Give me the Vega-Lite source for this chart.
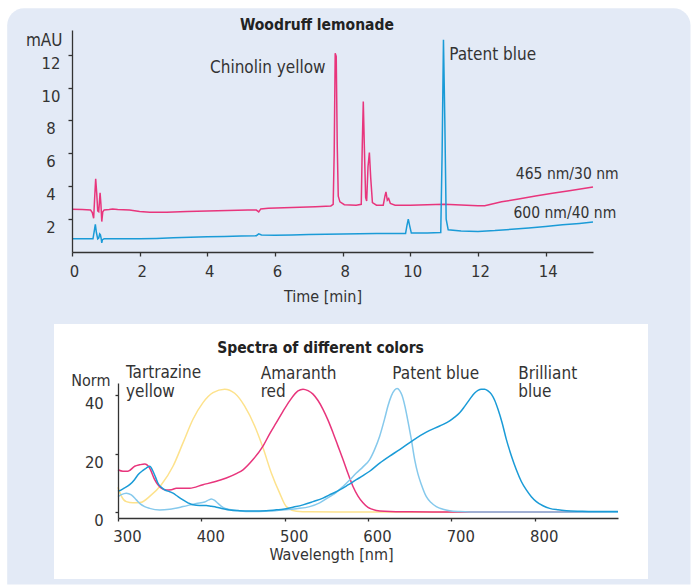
{
  "$schema": "https://vega.github.io/schema/vega-lite/v6.json",
  "background": "white",
  "padding": {"left": 7, "top": 8, "right": 0, "bottom": 0},
  "bounds": "flush",
  "spacing": 131,
  "resolve": {"scale": {"color": "independent"}},
  "config": {
    "font": "DejaVu Sans Condensed",
    "view": {"stroke": null},
    "axis": {
      "grid": false, "labelFlush": false, "labelOverlap": false, "labelBound": false,
      "domainColor": "#333333", "tickColor": "#333333", "labelColor": "#333333", "titleColor": "#333333",
      "domainWidth": 1.3, "tickWidth": 1.3, "labelFontSize": 16.5, "titleFontSize": 16, "titleFontWeight": "normal",
      "labelFont": "DejaVu Sans Condensed", "titleFont": "DejaVu Sans Condensed"
    }
  },
  "datasets": {
    "chrom": [
      {"ch":"465 nm/30 nm","t":0,"v":2.6},{"ch":"465 nm/30 nm","t":0.3,"v":2.58},{"ch":"465 nm/30 nm","t":0.55,"v":2.55},{"ch":"465 nm/30 nm","t":0.6,"v":2.4},{"ch":"465 nm/30 nm","t":0.64,"v":2.05},{"ch":"465 nm/30 nm","t":0.67,"v":3.3},{"ch":"465 nm/30 nm","t":0.7,"v":4.45},{"ch":"465 nm/30 nm","t":0.73,"v":3.6},{"ch":"465 nm/30 nm","t":0.76,"v":2.5},{"ch":"465 nm/30 nm","t":0.79,"v":2.45},{"ch":"465 nm/30 nm","t":0.83,"v":3.6},{"ch":"465 nm/30 nm","t":0.855,"v":2.9},{"ch":"465 nm/30 nm","t":0.88,"v":1.85},{"ch":"465 nm/30 nm","t":0.91,"v":2.45},{"ch":"465 nm/30 nm","t":0.95,"v":2.55},{"ch":"465 nm/30 nm","t":1.1,"v":2.58},{"ch":"465 nm/30 nm","t":1.2,"v":2.62},{"ch":"465 nm/30 nm","t":1.35,"v":2.58},{"ch":"465 nm/30 nm","t":1.7,"v":2.55},{"ch":"465 nm/30 nm","t":2.0,"v":2.47},{"ch":"465 nm/30 nm","t":2.3,"v":2.41},{"ch":"465 nm/30 nm","t":2.8,"v":2.42},{"ch":"465 nm/30 nm","t":3.4,"v":2.46},{"ch":"465 nm/30 nm","t":4.0,"v":2.5},{"ch":"465 nm/30 nm","t":4.6,"v":2.53},{"ch":"465 nm/30 nm","t":5.2,"v":2.56},{"ch":"465 nm/30 nm","t":5.45,"v":2.55},{"ch":"465 nm/30 nm","t":5.52,"v":2.44},{"ch":"465 nm/30 nm","t":5.58,"v":2.62},{"ch":"465 nm/30 nm","t":5.8,"v":2.66},{"ch":"465 nm/30 nm","t":6.5,"v":2.7},{"ch":"465 nm/30 nm","t":7.2,"v":2.75},{"ch":"465 nm/30 nm","t":7.65,"v":2.8},{"ch":"465 nm/30 nm","t":7.72,"v":2.9},{"ch":"465 nm/30 nm","t":7.75,"v":6},{"ch":"465 nm/30 nm","t":7.78,"v":12.08},{"ch":"465 nm/30 nm","t":7.81,"v":11.9},{"ch":"465 nm/30 nm","t":7.84,"v":6.5},{"ch":"465 nm/30 nm","t":7.87,"v":3.4},{"ch":"465 nm/30 nm","t":7.92,"v":3.05},{"ch":"465 nm/30 nm","t":8.05,"v":2.88},{"ch":"465 nm/30 nm","t":8.4,"v":2.85},{"ch":"465 nm/30 nm","t":8.55,"v":2.9},{"ch":"465 nm/30 nm","t":8.58,"v":6.5},{"ch":"465 nm/30 nm","t":8.61,"v":9.15},{"ch":"465 nm/30 nm","t":8.64,"v":6.5},{"ch":"465 nm/30 nm","t":8.68,"v":3.3},{"ch":"465 nm/30 nm","t":8.71,"v":3.1},{"ch":"465 nm/30 nm","t":8.75,"v":5.2},{"ch":"465 nm/30 nm","t":8.79,"v":6.05},{"ch":"465 nm/30 nm","t":8.83,"v":4.5},{"ch":"465 nm/30 nm","t":8.88,"v":3.0},{"ch":"465 nm/30 nm","t":9.0,"v":2.85},{"ch":"465 nm/30 nm","t":9.2,"v":2.85},{"ch":"465 nm/30 nm","t":9.25,"v":3.4},{"ch":"465 nm/30 nm","t":9.28,"v":3.65},{"ch":"465 nm/30 nm","t":9.32,"v":3.15},{"ch":"465 nm/30 nm","t":9.36,"v":3.25},{"ch":"465 nm/30 nm","t":9.41,"v":2.95},{"ch":"465 nm/30 nm","t":9.55,"v":2.85},{"ch":"465 nm/30 nm","t":10.0,"v":2.85},{"ch":"465 nm/30 nm","t":10.5,"v":2.88},{"ch":"465 nm/30 nm","t":11.0,"v":2.9},{"ch":"465 nm/30 nm","t":11.5,"v":2.86},{"ch":"465 nm/30 nm","t":12.0,"v":2.82},{"ch":"465 nm/30 nm","t":12.2,"v":2.82},{"ch":"465 nm/30 nm","t":12.7,"v":3.05},{"ch":"465 nm/30 nm","t":13.2,"v":3.22},{"ch":"465 nm/30 nm","t":13.7,"v":3.4},{"ch":"465 nm/30 nm","t":14.2,"v":3.57},{"ch":"465 nm/30 nm","t":14.7,"v":3.73},{"ch":"465 nm/30 nm","t":15.4,"v":3.95},
      {"ch":"600 nm/40 nm","t":0,"v":0.8},{"ch":"600 nm/40 nm","t":0.5,"v":0.8},{"ch":"600 nm/40 nm","t":0.62,"v":0.8},{"ch":"600 nm/40 nm","t":0.66,"v":1.3},{"ch":"600 nm/40 nm","t":0.69,"v":1.68},{"ch":"600 nm/40 nm","t":0.72,"v":1.2},{"ch":"600 nm/40 nm","t":0.76,"v":0.8},{"ch":"600 nm/40 nm","t":0.79,"v":0.85},{"ch":"600 nm/40 nm","t":0.82,"v":1.1},{"ch":"600 nm/40 nm","t":0.84,"v":1.05},{"ch":"600 nm/40 nm","t":0.86,"v":0.85},{"ch":"600 nm/40 nm","t":0.88,"v":0.55},{"ch":"600 nm/40 nm","t":0.9,"v":0.75},{"ch":"600 nm/40 nm","t":0.95,"v":0.8},{"ch":"600 nm/40 nm","t":1.5,"v":0.8},{"ch":"600 nm/40 nm","t":2.0,"v":0.8},{"ch":"600 nm/40 nm","t":2.5,"v":0.82},{"ch":"600 nm/40 nm","t":3.0,"v":0.86},{"ch":"600 nm/40 nm","t":3.5,"v":0.89},{"ch":"600 nm/40 nm","t":4.0,"v":0.92},{"ch":"600 nm/40 nm","t":4.5,"v":0.95},{"ch":"600 nm/40 nm","t":5.0,"v":0.97},{"ch":"600 nm/40 nm","t":5.45,"v":0.99},{"ch":"600 nm/40 nm","t":5.52,"v":1.1},{"ch":"600 nm/40 nm","t":5.6,"v":1.03},{"ch":"600 nm/40 nm","t":6.0,"v":1.02},{"ch":"600 nm/40 nm","t":6.5,"v":1.04},{"ch":"600 nm/40 nm","t":7.0,"v":1.06},{"ch":"600 nm/40 nm","t":7.5,"v":1.08},{"ch":"600 nm/40 nm","t":8.0,"v":1.1},{"ch":"600 nm/40 nm","t":8.5,"v":1.11},{"ch":"600 nm/40 nm","t":9.0,"v":1.12},{"ch":"600 nm/40 nm","t":9.5,"v":1.12},{"ch":"600 nm/40 nm","t":9.86,"v":1.13},{"ch":"600 nm/40 nm","t":9.9,"v":1.6},{"ch":"600 nm/40 nm","t":9.94,"v":2.0},{"ch":"600 nm/40 nm","t":9.98,"v":1.6},{"ch":"600 nm/40 nm","t":10.03,"v":1.15},{"ch":"600 nm/40 nm","t":10.5,"v":1.15},{"ch":"600 nm/40 nm","t":10.9,"v":1.18},{"ch":"600 nm/40 nm","t":10.94,"v":6},{"ch":"600 nm/40 nm","t":10.98,"v":12.9},{"ch":"600 nm/40 nm","t":11.02,"v":8},{"ch":"600 nm/40 nm","t":11.06,"v":2},{"ch":"600 nm/40 nm","t":11.12,"v":1.35},{"ch":"600 nm/40 nm","t":11.5,"v":1.27},{"ch":"600 nm/40 nm","t":12.0,"v":1.25},{"ch":"600 nm/40 nm","t":12.5,"v":1.3},{"ch":"600 nm/40 nm","t":13.0,"v":1.38},{"ch":"600 nm/40 nm","t":13.5,"v":1.46},{"ch":"600 nm/40 nm","t":14.0,"v":1.55},{"ch":"600 nm/40 nm","t":14.5,"v":1.65},{"ch":"600 nm/40 nm","t":15.0,"v":1.74},{"ch":"600 nm/40 nm","t":15.4,"v":1.82}
    ],
    "topLabels": [
      {"label":"Chinolin yellow","t":4.08,"v":10.9},
      {"label":"Patent blue","t":11.15,"v":11.68}
    ],
    "chLabels": [
      {"label":"465 nm/30 nm","t":13.12,"v":4.44},
      {"label":"600 nm/40 nm","t":13.05,"v":2.05}
    ],
    "spectra": [
      {"dye":"Tartrazine yellow","nm":300,"a":8.5},{"dye":"Tartrazine yellow","nm":304,"a":5.5},{"dye":"Tartrazine yellow","nm":310,"a":3.6},{"dye":"Tartrazine yellow","nm":318,"a":3.2},{"dye":"Tartrazine yellow","nm":328,"a":3.4},{"dye":"Tartrazine yellow","nm":338,"a":5.4},{"dye":"Tartrazine yellow","nm":352,"a":9.4},{"dye":"Tartrazine yellow","nm":366,"a":15.7},{"dye":"Tartrazine yellow","nm":378,"a":23.7},{"dye":"Tartrazine yellow","nm":390,"a":31.8},{"dye":"Tartrazine yellow","nm":402,"a":37.5},{"dye":"Tartrazine yellow","nm":414,"a":40.9},{"dye":"Tartrazine yellow","nm":428,"a":42.1},{"dye":"Tartrazine yellow","nm":440,"a":40.7},{"dye":"Tartrazine yellow","nm":452,"a":36.3},{"dye":"Tartrazine yellow","nm":464,"a":29.5},{"dye":"Tartrazine yellow","nm":474,"a":22},{"dye":"Tartrazine yellow","nm":484,"a":13.4},{"dye":"Tartrazine yellow","nm":494,"a":6.5},{"dye":"Tartrazine yellow","nm":502,"a":1.9},{"dye":"Tartrazine yellow","nm":514,"a":0.3},{"dye":"Tartrazine yellow","nm":530,"a":0.1},{"dye":"Tartrazine yellow","nm":600,"a":0.05},{"dye":"Tartrazine yellow","nm":700,"a":0},{"dye":"Tartrazine yellow","nm":900,"a":0},
      {"dye":"Amaranth red","nm":300,"a":14.5},{"dye":"Amaranth red","nm":306,"a":14.0},{"dye":"Amaranth red","nm":312,"a":14.0},{"dye":"Amaranth red","nm":320,"a":15.7},{"dye":"Amaranth red","nm":326,"a":16.2},{"dye":"Amaranth red","nm":332,"a":16.5},{"dye":"Amaranth red","nm":338,"a":15.1},{"dye":"Amaranth red","nm":344,"a":11.1},{"dye":"Amaranth red","nm":352,"a":8.2},{"dye":"Amaranth red","nm":358,"a":7.6},{"dye":"Amaranth red","nm":364,"a":7.7},{"dye":"Amaranth red","nm":370,"a":8.2},{"dye":"Amaranth red","nm":386,"a":8.2},{"dye":"Amaranth red","nm":402,"a":9.4},{"dye":"Amaranth red","nm":416,"a":10.4},{"dye":"Amaranth red","nm":430,"a":11.7},{"dye":"Amaranth red","nm":442,"a":13.2},{"dye":"Amaranth red","nm":450,"a":14.5},{"dye":"Amaranth red","nm":462,"a":18},{"dye":"Amaranth red","nm":474,"a":22.6},{"dye":"Amaranth red","nm":482,"a":26.8},{"dye":"Amaranth red","nm":490,"a":30.6},{"dye":"Amaranth red","nm":498,"a":34.5},{"dye":"Amaranth red","nm":506,"a":38.1},{"dye":"Amaranth red","nm":516,"a":41.5},{"dye":"Amaranth red","nm":522,"a":42.1},{"dye":"Amaranth red","nm":528,"a":41.6},{"dye":"Amaranth red","nm":534,"a":40.4},{"dye":"Amaranth red","nm":540,"a":38.2},{"dye":"Amaranth red","nm":546,"a":35.2},{"dye":"Amaranth red","nm":552,"a":31.5},{"dye":"Amaranth red","nm":558,"a":27.2},{"dye":"Amaranth red","nm":564,"a":22.6},{"dye":"Amaranth red","nm":570,"a":18},{"dye":"Amaranth red","nm":576,"a":13.2},{"dye":"Amaranth red","nm":582,"a":8.8},{"dye":"Amaranth red","nm":588,"a":5.5},{"dye":"Amaranth red","nm":594,"a":3.2},{"dye":"Amaranth red","nm":600,"a":1.6},{"dye":"Amaranth red","nm":610,"a":0.6},{"dye":"Amaranth red","nm":620,"a":0.3},{"dye":"Amaranth red","nm":650,"a":0.1},{"dye":"Amaranth red","nm":700,"a":0.05},{"dye":"Amaranth red","nm":900,"a":0},
      {"dye":"Patent blue","nm":300,"a":5.3},{"dye":"Patent blue","nm":304,"a":6.0},{"dye":"Patent blue","nm":310,"a":6.5},{"dye":"Patent blue","nm":316,"a":5.9},{"dye":"Patent blue","nm":322,"a":4.2},{"dye":"Patent blue","nm":326,"a":3.0},{"dye":"Patent blue","nm":332,"a":1.9},{"dye":"Patent blue","nm":338,"a":1.3},{"dye":"Patent blue","nm":350,"a":0.76},{"dye":"Patent blue","nm":362,"a":1.0},{"dye":"Patent blue","nm":378,"a":1.9},{"dye":"Patent blue","nm":394,"a":3.0},{"dye":"Patent blue","nm":404,"a":3.5},{"dye":"Patent blue","nm":409,"a":4.2},{"dye":"Patent blue","nm":412,"a":4.5},{"dye":"Patent blue","nm":416,"a":4.0},{"dye":"Patent blue","nm":420,"a":3.0},{"dye":"Patent blue","nm":426,"a":1.6},{"dye":"Patent blue","nm":434,"a":0.9},{"dye":"Patent blue","nm":442,"a":0.5},{"dye":"Patent blue","nm":466,"a":0.2},{"dye":"Patent blue","nm":482,"a":0.4},{"dye":"Patent blue","nm":498,"a":0.76},{"dye":"Patent blue","nm":514,"a":1.2},{"dye":"Patent blue","nm":530,"a":1.9},{"dye":"Patent blue","nm":542,"a":3.2},{"dye":"Patent blue","nm":554,"a":5.3},{"dye":"Patent blue","nm":562,"a":6.8},{"dye":"Patent blue","nm":570,"a":8.8},{"dye":"Patent blue","nm":578,"a":11},{"dye":"Patent blue","nm":586,"a":13.4},{"dye":"Patent blue","nm":594,"a":15.5},{"dye":"Patent blue","nm":602,"a":18},{"dye":"Patent blue","nm":608,"a":21.5},{"dye":"Patent blue","nm":614,"a":26},{"dye":"Patent blue","nm":620,"a":32},{"dye":"Patent blue","nm":624,"a":36.4},{"dye":"Patent blue","nm":628,"a":39.8},{"dye":"Patent blue","nm":632,"a":41.8},{"dye":"Patent blue","nm":635,"a":42.3},{"dye":"Patent blue","nm":638,"a":41.6},{"dye":"Patent blue","nm":641,"a":39.8},{"dye":"Patent blue","nm":646,"a":34},{"dye":"Patent blue","nm":649,"a":29.5},{"dye":"Patent blue","nm":652,"a":24.9},{"dye":"Patent blue","nm":656,"a":18},{"dye":"Patent blue","nm":660,"a":13},{"dye":"Patent blue","nm":664,"a":9.5},{"dye":"Patent blue","nm":670,"a":5.3},{"dye":"Patent blue","nm":676,"a":3.2},{"dye":"Patent blue","nm":682,"a":1.9},{"dye":"Patent blue","nm":690,"a":1.0},{"dye":"Patent blue","nm":698,"a":0.5},{"dye":"Patent blue","nm":710,"a":0.2},{"dye":"Patent blue","nm":722,"a":0.07},{"dye":"Patent blue","nm":900,"a":0},
      {"dye":"Brilliant blue","nm":300,"a":7.1},{"dye":"Brilliant blue","nm":306,"a":8.0},{"dye":"Brilliant blue","nm":314,"a":9.4},{"dye":"Brilliant blue","nm":320,"a":11.2},{"dye":"Brilliant blue","nm":324,"a":12.8},{"dye":"Brilliant blue","nm":330,"a":14.3},{"dye":"Brilliant blue","nm":334,"a":15.1},{"dye":"Brilliant blue","nm":338,"a":15.7},{"dye":"Brilliant blue","nm":342,"a":14.0},{"dye":"Brilliant blue","nm":345,"a":12},{"dye":"Brilliant blue","nm":348,"a":9.9},{"dye":"Brilliant blue","nm":352,"a":8.5},{"dye":"Brilliant blue","nm":356,"a":7.6},{"dye":"Brilliant blue","nm":362,"a":7.0},{"dye":"Brilliant blue","nm":366,"a":6.5},{"dye":"Brilliant blue","nm":372,"a":5.3},{"dye":"Brilliant blue","nm":378,"a":4.2},{"dye":"Brilliant blue","nm":384,"a":3.2},{"dye":"Brilliant blue","nm":390,"a":2.5},{"dye":"Brilliant blue","nm":398,"a":2.3},{"dye":"Brilliant blue","nm":406,"a":2.3},{"dye":"Brilliant blue","nm":412,"a":2.0},{"dye":"Brilliant blue","nm":418,"a":1.7},{"dye":"Brilliant blue","nm":426,"a":1.2},{"dye":"Brilliant blue","nm":434,"a":0.76},{"dye":"Brilliant blue","nm":446,"a":0.5},{"dye":"Brilliant blue","nm":458,"a":0.4},{"dye":"Brilliant blue","nm":478,"a":0.5},{"dye":"Brilliant blue","nm":490,"a":0.8},{"dye":"Brilliant blue","nm":498,"a":1.0},{"dye":"Brilliant blue","nm":510,"a":1.7},{"dye":"Brilliant blue","nm":522,"a":2.5},{"dye":"Brilliant blue","nm":534,"a":3.6},{"dye":"Brilliant blue","nm":546,"a":4.8},{"dye":"Brilliant blue","nm":556,"a":6.2},{"dye":"Brilliant blue","nm":566,"a":7.6},{"dye":"Brilliant blue","nm":576,"a":9.3},{"dye":"Brilliant blue","nm":586,"a":11.1},{"dye":"Brilliant blue","nm":594,"a":12.5},{"dye":"Brilliant blue","nm":602,"a":14.0},{"dye":"Brilliant blue","nm":614,"a":16.8},{"dye":"Brilliant blue","nm":626,"a":19.2},{"dye":"Brilliant blue","nm":638,"a":21.4},{"dye":"Brilliant blue","nm":654,"a":24.6},{"dye":"Brilliant blue","nm":670,"a":27.4},{"dye":"Brilliant blue","nm":686,"a":29.5},{"dye":"Brilliant blue","nm":698,"a":31.2},{"dye":"Brilliant blue","nm":704,"a":32.5},{"dye":"Brilliant blue","nm":710,"a":34},{"dye":"Brilliant blue","nm":716,"a":36.2},{"dye":"Brilliant blue","nm":722,"a":38.6},{"dye":"Brilliant blue","nm":728,"a":40.8},{"dye":"Brilliant blue","nm":732,"a":41.7},{"dye":"Brilliant blue","nm":736,"a":42.1},{"dye":"Brilliant blue","nm":740,"a":42.1},{"dye":"Brilliant blue","nm":744,"a":41.5},{"dye":"Brilliant blue","nm":748,"a":40.4},{"dye":"Brilliant blue","nm":752,"a":38.3},{"dye":"Brilliant blue","nm":756,"a":35.2},{"dye":"Brilliant blue","nm":761,"a":30.5},{"dye":"Brilliant blue","nm":766,"a":24.9},{"dye":"Brilliant blue","nm":772,"a":19.3},{"dye":"Brilliant blue","nm":778,"a":14.5},{"dye":"Brilliant blue","nm":784,"a":10.5},{"dye":"Brilliant blue","nm":790,"a":7.6},{"dye":"Brilliant blue","nm":796,"a":5.3},{"dye":"Brilliant blue","nm":802,"a":3.6},{"dye":"Brilliant blue","nm":810,"a":2.2},{"dye":"Brilliant blue","nm":818,"a":1.3},{"dye":"Brilliant blue","nm":828,"a":0.8},{"dye":"Brilliant blue","nm":838,"a":0.5},{"dye":"Brilliant blue","nm":855,"a":0.3},{"dye":"Brilliant blue","nm":870,"a":0.2},{"dye":"Brilliant blue","nm":900,"a":0.2}
    ],
    "botLabels": [
      {"label":"Tartrazine\nyellow","nm":309.6,"a":45.81},
      {"label":"Amaranth\nred","nm":471.2,"a":45.57},
      {"label":"Patent blue","nm":629.2,"a":45.57},
      {"label":"Brilliant\nblue","nm":780.4,"a":45.57}
    ]
  },
  "vconcat": [
    {
      "width": 521,
      "height": 222,
      "layer": [
        {
          "data": {"values": [{}]},
          "mark": {"type": "rect", "color": "#e3eaf6", "cornerRadiusTopLeft": 17, "cornerRadiusTopRight": 17},
          "encoding": {
            "x": {"datum": -1.9154, "type": "quantitative"},
            "x2": {"datum": 18.2821},
            "y": {"datum": 14.8257, "type": "quantitative"},
            "y2": {"datum": -20.2196}
          }
        },
        {
          "data": {"name": "chrom"},
          "mark": {"type": "line", "strokeWidth": 1.5},
          "encoding": {
            "x": {
              "field": "t", "type": "quantitative",
              "scale": {"domain": [0, 15.4], "nice": false, "zero": false},
              "axis": {
                "zindex": 1, "title": "Time [min]", "values": [0, 2, 4, 6, 8, 10, 12, 14],
                "labelFlush": false, "labelOverlap": false,
                "tickSize": 4, "labelBaseline": "alphabetic", "labelPadding": 20.7, "labelOffset": 2,
                "titleX": 250.5, "titleY": 49, "titleBaseline": "alphabetic", "titleAlign": "center"
              }
            },
            "y": {
              "field": "v", "type": "quantitative",
              "scale": {"domain": [0, 13.5], "nice": false, "zero": false},
              "axis": {
                "zindex": 1, "title": "mAU", "values": [2, 4, 6, 8, 10, 12],
                "labelFlush": false, "labelOverlap": false,
                "tickSize": 4, "labelAlign": "center", "labelPadding": 17.5, "labelBaseline": "middle", "labelOffset": 8.5,
                "titleAngle": 0, "titleX": -10, "titleY": 15, "titleAlign": "right", "titleBaseline": "alphabetic", "titleFontSize": 17
              }
            },
            "color": {
              "field": "ch", "type": "nominal", "legend": null,
              "scale": {"domain": ["465 nm/30 nm", "600 nm/40 nm"], "range": ["#e8357c", "#1a9bd7"]}
            }
          }
        },
        {
          "data": {"name": "topLabels"},
          "mark": {"type": "text", "align": "left", "baseline": "alphabetic", "fontSize": 17, "color": "#333333"},
          "encoding": {
            "x": {"field": "t", "type": "quantitative"},
            "y": {"field": "v", "type": "quantitative"},
            "text": {"field": "label"}
          }
        },
        {
          "data": {"name": "chLabels"},
          "mark": {"type": "text", "align": "left", "baseline": "alphabetic", "fontSize": 15.5, "color": "#333333"},
          "encoding": {
            "x": {"field": "t", "type": "quantitative"},
            "y": {"field": "v", "type": "quantitative"},
            "text": {"field": "label"}
          }
        },
        {
          "data": {"values": [{}]},
          "mark": {"type": "text", "align": "center", "baseline": "alphabetic", "fontSize": 15.5, "fontWeight": "bold", "color": "#222222"},
          "encoding": {
            "x": {"datum": 7.24, "type": "quantitative"},
            "y": {"datum": 13.5, "type": "quantitative"},
            "text": {"value": "Woodruff lemonade"}
          }
        }
      ]
    },
    {
      "bounds": "flush",
      "spacing": 0,
      "hconcat": [
        {
          "width": 46,
          "height": 135,
          "data": {"values": [{}]},
          "mark": {"type": "point", "opacity": 0}
        },
        {
          "width": 500,
          "height": 135,
          "layer": [
            {
              "data": {"values": [{}]},
              "mark": {"type": "rect", "color": "white"},
              "encoding": {
                "x": {"datum": 223.2, "type": "quantitative"},
                "x2": {"datum": 936},
                "y": {"datum": 64.39, "type": "quantitative"},
                "y2": {"datum": -22.875}
              }
            },
            {
              "data": {"name": "spectra"},
              "mark": {"type": "line", "strokeWidth": 1.5, "interpolate": "monotone"},
              "encoding": {
                "x": {
                  "field": "nm", "type": "quantitative",
                  "scale": {"domain": [300, 900], "nice": false, "zero": false},
                  "axis": {
                    "zindex": 1, "title": "Wavelength [nm]", "values": [300, 400, 500, 600, 700, 800],
                    "labelFlush": false, "labelOverlap": false,
                    "tickSize": 3, "labelBaseline": "alphabetic", "labelPadding": 20.7, "labelOffset": 9,
                    "titleX": 213, "titleY": 41, "titleBaseline": "alphabetic", "titleAlign": "center"
                  }
                },
                "y": {
                  "field": "a", "type": "quantitative",
                  "scale": {"domain": [-2, 44.2], "nice": false, "zero": false},
                  "axis": {
                    "zindex": 1, "title": "Norm", "values": [0, 10, 20, 30, 40],
                    "labelFlush": false, "labelOverlap": false,
                    "tickSize": 3, "labelAlign": "right", "labelPadding": 11.7, "labelBaseline": "middle",
                    "labelOffset": 8.5,
                    "titleAngle": 0, "titleX": -8, "titleY": 2, "titleAlign": "right", "titleBaseline": "alphabetic"
                  }
                },
                "color": {
                  "field": "dye", "type": "nominal", "legend": null,
                  "scale": {"domain": ["Tartrazine yellow", "Amaranth red", "Patent blue", "Brilliant blue"], "range": ["#fde28c", "#e8357c", "#86c9ec", "#1a9bd7"]}
                }
              }
            },
            {
              "data": {"name": "botLabels"},
              "mark": {"type": "text", "align": "left", "baseline": "alphabetic", "fontSize": 17, "color": "#333333", "lineBreak": "\n", "lineHeight": 18.5},
              "encoding": {
                "x": {"field": "nm", "type": "quantitative"},
                "y": {"field": "a", "type": "quantitative"},
                "text": {"field": "label"}
              }
            },
            {
              "data": {"values": [{}]},
              "mark": {"type": "text", "align": "center", "baseline": "alphabetic", "fontSize": 15.5, "fontWeight": "bold", "color": "#222222"},
              "encoding": {
                "x": {"datum": 543, "type": "quantitative"},
                "y": {"datum": 54.36, "type": "quantitative"},
                "text": {"value": "Spectra of different colors"}
              }
            }
          ]
        }
      ]
    }
  ]
}
